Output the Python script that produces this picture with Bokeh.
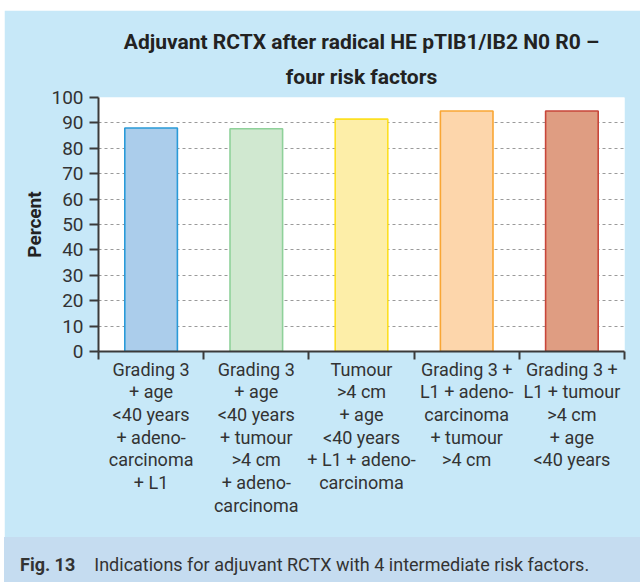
from bokeh.plotting import figure
from bokeh.models import (Range1d, LinearAxis, FixedTicker, ColumnDataSource,
                          Title, Spacer, Div)
from bokeh.layouts import column, row
from bokeh.embed import file_html
from bokeh.resources import INLINE

categories = [
    "Grading 3\n+ age\n<40 years\n+ adeno-\ncarcinoma\n+ L1",
    "Grading 3\n+ age\n<40 years\n+ tumour\n>4 cm\n+ adeno-\ncarcinoma",
    "Tumour\n>4 cm\n+ age\n<40 years\n+ L1 + adeno-\ncarcinoma",
    "Grading 3 +\nL1 + adeno-\ncarcinoma\n+ tumour\n>4 cm",
    "Grading 3 +\nL1 + tumour\n>4 cm\n+ age\n<40 years",
]
percent = [88, 87.7, 91.5, 94.7, 94.7]
fill_colors = ["#abcdeb", "#d0e8d0", "#fdeea8", "#fdd6ab", "#df9d82"]
line_colors = ["#2a9ad8", "#8fd19a", "#fde021", "#f9a634", "#c8463a"]
y_ticks = [0, 10, 20, 30, 40, 50, 60, 70, 80, 90, 100]

title_line1 = "Adjuvant RCTX after radical HE pTIB1/IB2 N0 R0 \u2013"
title_line2 = "four risk factors"
caption_bold = "Fig. 13"
caption_text = "Indications for adjuvant RCTX with 4 intermediate risk factors."

PANEL = "#c7e8f8"
CAPBG = "#c5dcf0"
AX = "#3a3a3a"
FONT = "Roboto"

n = len(categories)
centers = [i + 0.5 for i in range(n)]
bounds = list(range(n + 1))

src = ColumnDataSource(dict(x=centers, val=percent, fc=fill_colors, lc=line_colors))

W = 636
p = figure(x_range=Range1d(0, n), y_range=Range1d(0, 100),
           width=W, height=527, output_backend="svg", toolbar_location=None,
           x_axis_location=None, y_axis_location="left", title=None,
           min_border_left=94, min_border_right=W - 94 - 526, min_border_top=87,
           min_border_bottom=186,
           background_fill_color="white", border_fill_color=PANEL,
           outline_line_color=None)

p.vbar(x="x", top="val", width=0.5, bottom=0, source=src,
       fill_color="fc", line_color="lc", line_width=1.6)

# title (two centred lines)
t2 = Title(text=title_line2, align="center", text_font=FONT, text_font_size="21px",
           text_font_style="bold", text_color="#222222", standoff=18)
t1 = Title(text=title_line1, align="center", text_font=FONT, text_font_size="21px",
           text_font_style="bold", text_color="#222222", standoff=0)
p.add_layout(t2, "above")
p.add_layout(t1, "above")

# y axis
ya = p.yaxis[0]
ya.ticker = FixedTicker(ticks=y_ticks)
ya.major_tick_out = 9
ya.major_tick_in = 0
ya.minor_tick_line_color = None
ya.axis_line_color = AX
ya.axis_line_width = 2
ya.major_tick_line_color = AX
ya.major_tick_line_width = 2
ya.major_label_text_font = FONT
ya.major_label_text_font_size = "19px"
ya.major_label_text_color = "#333333"
ya.major_label_standoff = 6
ya.axis_label = "Percent"
ya.axis_label_text_font = FONT
ya.axis_label_text_font_size = "19px"
ya.axis_label_text_font_style = "bold"
ya.axis_label_text_color = "#222222"
ya.axis_label_standoff = 2

# x axis: boundary ticks
tick_axis = LinearAxis(ticker=FixedTicker(ticks=bounds),
                       major_tick_in=0, major_tick_out=8,
                       minor_tick_line_color=None,
                       major_label_text_font_size="0px",
                       major_label_overrides={b: "" for b in bounds},
                       major_label_standoff=0,
                       axis_line_color=AX, axis_line_width=2,
                       major_tick_line_color=AX, major_tick_line_width=2)
p.add_layout(tick_axis, "below")

# x axis: category labels at centres
cat_axis = LinearAxis(ticker=FixedTicker(ticks=centers),
                      major_label_overrides={c: lab for c, lab in zip(centers, categories)},
                      axis_line_color=None, major_tick_line_color=None,
                      minor_tick_line_color=None,
                      major_tick_in=0, major_tick_out=0,
                      major_label_standoff=-1,
                      major_label_text_font=FONT,
                      major_label_text_font_size="18px",
                      major_label_text_color="#333333",
                      major_label_text_line_height=1.08)
p.add_layout(cat_axis, "below")

p.ygrid.grid_line_color = "#9a9a9a"
p.ygrid.grid_line_dash = "3 3"
p.ygrid.grid_line_width = 1.2
p.xgrid.visible = False

# caption band
cap_html = (
    f'<div style="background:{CAPBG};width:{W}px;height:45px;box-sizing:border-box;'
    f'padding:18px 0 0 16px;font-family:Roboto;font-size:18px;line-height:20px;'
    f'color:#333333;white-space:nowrap;">'
    f'<b>{caption_bold}</b><span style="padding-left:19px">{caption_text}</span></div>'
)
cap = Div(text=cap_html, width=W, height=45, margin=0)

layout = column(Spacer(height=10),
                row(Spacer(width=4), column(p, cap, spacing=0), spacing=0),
                spacing=0)
open("out.html", "w").write(file_html(layout, INLINE))
